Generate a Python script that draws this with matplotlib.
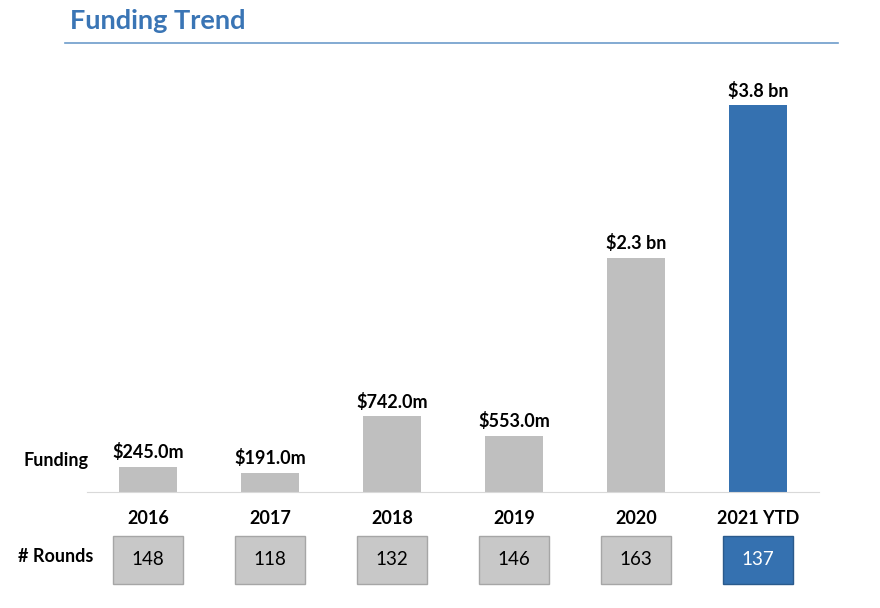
import matplotlib.pyplot as plt
from matplotlib.patches import Rectangle
from matplotlib.transforms import blended_transform_factory

plt.rcParams['font.family'] = ['Lato', 'DejaVu Sans']

years = ['2016', '2017', '2018', '2019', '2020', '2021 YTD']
funding_bn = [0.245, 0.191, 0.742, 0.553, 2.3, 3.8]
funding_labels = ['$245.0m', '$191.0m', '$742.0m', '$553.0m', '$2.3 bn', '$3.8 bn']
rounds = [148, 118, 132, 146, 163, 137]

gray = '#bfbfbf'
blue = '#3571b0'
colors = [gray] * 5 + [blue]

fig = plt.figure(figsize=(8.8, 6.08), dpi=100)
ax = fig.add_axes([0.0989, 0.1908, 0.8318, 0.6697])

x = range(len(years))
ax.bar(x, funding_bn, width=0.48, color=colors)
ax.set_xlim(-0.5, 5.5)
ax.set_ylim(0, 4.0)
for s in ['top', 'right', 'left']:
    ax.spines[s].set_visible(False)
ax.spines['bottom'].set_color('#d9d9d9')
ax.set_xticks([])
ax.set_yticks([])

# value labels above bars
for i, (v, lab) in enumerate(zip(funding_bn, funding_labels)):
    ax.annotate(lab, (i, v), xytext=(0, 4), textcoords='offset points',
                ha='center', va='bottom', fontsize=13, fontweight='bold')

# year labels and rounds boxes
tr = blended_transform_factory(ax.transData, fig.transFigure)
for i, (yr, r) in enumerate(zip(years, rounds)):
    ax.text(i, 0.148, yr, transform=tr, ha='center', va='center',
            fontsize=13, fontweight='bold', clip_on=False)
    face = blue if i == len(years) - 1 else '#c8c8c8'
    edge = '#2a5a8c' if i == len(years) - 1 else '#a6a6a6'
    ax.add_patch(Rectangle((i - 0.287, 0.0395), 0.574, 0.079, transform=tr,
                           facecolor=face, edgecolor=edge, lw=1, clip_on=False))
    ax.text(i, 0.079, str(r), transform=tr, ha='center', va='center',
            fontsize=13.5, color='white' if i == len(years) - 1 else 'black',
            clip_on=False)

fig.text(0.027, 0.243, 'Funding', ha='left', va='center',
         fontsize=13, fontweight='bold')
fig.text(0.02, 0.085, '# Rounds', ha='left', va='center',
         fontsize=13, fontweight='bold')

# title with rule underneath
fig.text(0.08, 0.965, 'Funding Trend', ha='left', va='center',
         fontsize=19.5, fontweight='bold', color='#3a75b5')
fig.add_artist(plt.Line2D([0.074, 0.952], [0.929, 0.929], color='#6d9ccb', lw=1.2))

fig.savefig('out.png', dpi=100)
